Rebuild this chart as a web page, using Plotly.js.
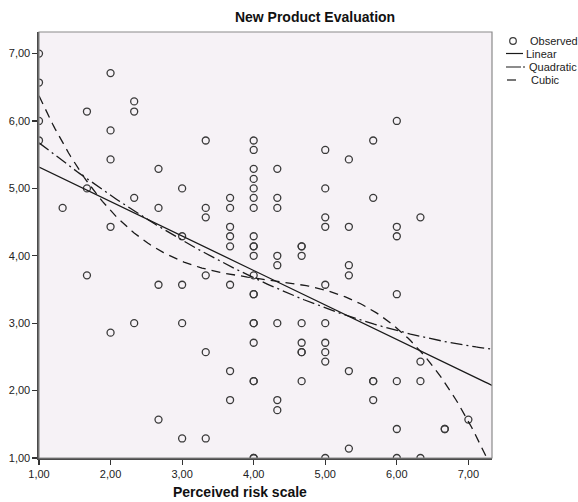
<!DOCTYPE html>
<html>
<head>
<meta charset="utf-8">
<script src="https://cdn.plot.ly/plotly-3.0.1.min.js"></script>
<style>
html,body{margin:0;padding:0;background:#ffffff;}
#chart{width:578px;height:502px;}
</style>
</head>
<body>
<div id="chart"></div>
<script>
// Observed data: perceived risk scale (x) vs new product evaluation (y)
const riskX = [
  1, 1, 1, 1,
  1.33,
  1.67, 1.67, 1.67,
  2, 2, 2, 2, 2,
  2.33, 2.33, 2.33, 2.33,
  2.67, 2.67, 2.67, 2.67,
  3, 3, 3, 3, 3,
  3.33, 3.33, 3.33, 3.33, 3.33, 3.33,
  3.67, 3.67, 3.67, 3.67, 3.67, 3.67, 3.67, 3.67,
  4, 4, 4, 4, 4, 4, 4, 4, 4, 4, 4, 4, 4, 4, 4, 4, 4, 4, 4, 4, 4,
  4.33, 4.33, 4.33, 4.33, 4.33, 4.33, 4.33, 4.33,
  4.67, 4.67, 4.67, 4.67, 4.67, 4.67, 4.67, 4.67,
  5, 5, 5, 5, 5, 5, 5, 5, 5, 5,
  5.33, 5.33, 5.33, 5.33, 5.33, 5.33,
  5.67, 5.67, 5.67, 5.67, 5.67,
  6, 6, 6, 6, 6, 6, 6,
  6.33, 6.33, 6.33, 6.33,
  6.67, 6.67,
  7
];
const evalY = [
  7.00, 6.57, 6.00, 5.71,
  4.71,
  6.14, 5.00, 3.71,
  6.71, 5.86, 5.43, 4.43, 2.86,
  6.29, 6.14, 4.86, 3.00,
  5.29, 4.71, 3.57, 1.57,
  5.00, 4.29, 3.57, 3.00, 1.29,
  5.71, 4.71, 4.57, 3.71, 2.57, 1.29,
  4.86, 4.71, 4.43, 4.29, 4.14, 3.57, 2.29, 1.86,
  5.71, 5.57, 5.29, 5.14, 5.00, 4.86, 4.71, 4.29, 4.14, 4.14, 4.00, 3.71, 3.43, 3.43, 3.00, 3.00, 2.71, 2.14, 2.14, 1.00, 1.00,
  5.29, 4.86, 4.71, 4.00, 3.86, 3.00, 1.86, 1.71,
  4.14, 4.14, 4.00, 3.00, 2.71, 2.57, 2.57, 2.14,
  5.57, 5.00, 4.57, 4.43, 3.57, 3.00, 2.71, 2.57, 2.43, 1.00,
  5.43, 4.43, 3.86, 3.71, 2.29, 1.14,
  5.71, 4.86, 2.14, 2.14, 1.86,
  6.00, 4.43, 4.29, 3.43, 2.14, 1.43, 1.00,
  4.57, 2.43, 2.14, 1.00,
  1.43, 1.43,
  1.57
];
const tickVals = [1, 2, 3, 4, 5, 6, 7];
const tickText = ['1,00', '2,00', '3,00', '4,00', '5,00', '6,00', '7,00'];
const seriesNames = ['Observed', 'Linear', 'Quadratic', 'Cubic'];
const fitDegrees = [1, 2, 3];
const chartTitle = 'New Product Evaluation';
const xTitle = 'Perceived risk scale';

const X_RANGE = [1, 7.33];
const Y_RANGE = [1, 7.32];

// least-squares polynomial fit of the observed data (curve estimation)
function polyFit(xs, ys, deg) {
  const n = deg + 1;
  const A = [];
  for (let i = 0; i < n; i++) A.push(new Array(n + 1).fill(0));
  for (let k = 0; k < xs.length; k++) {
    for (let i = 0; i < n; i++) {
      for (let j = 0; j < n; j++) A[i][j] += Math.pow(xs[k], i + j);
      A[i][n] += ys[k] * Math.pow(xs[k], i);
    }
  }
  for (let i = 0; i < n; i++) {
    let p = i;
    for (let r = i + 1; r < n; r++) if (Math.abs(A[r][i]) > Math.abs(A[p][i])) p = r;
    const tmp = A[i]; A[i] = A[p]; A[p] = tmp;
    for (let r = 0; r < n; r++) {
      if (r === i) continue;
      const f = A[r][i] / A[i][i];
      for (let c = i; c <= n; c++) A[r][c] -= f * A[i][c];
    }
  }
  return A.map((row, i) => row[n] / row[i]);
}
function evalPoly(coef, x) {
  let s = 0;
  for (let i = 0; i < coef.length; i++) s += coef[i] * Math.pow(x, i);
  return s;
}

const gridX = [];
for (let i = 0; i <= 200; i++) gridX.push(X_RANGE[0] + (X_RANGE[1] - X_RANGE[0]) * i / 200);

const lineStyles = ['solid', '12px,4px,2px,4px', '9px,6px'];
const fitTraces = fitDegrees.map((deg, idx) => {
  const c = polyFit(riskX, evalY, deg);
  return {
    type: 'scatter', mode: 'lines', name: seriesNames[idx + 1],
    x: gridX, y: gridX.map(v => evalPoly(c, v)),
    line: {color: '#1a1a1a', width: 1.3, dash: lineStyles[idx]},
    hoverinfo: 'skip'
  };
});

const observed = {
  type: 'scatter', mode: 'markers', name: seriesNames[0],
  x: riskX, y: evalY,
  marker: {symbol: 'circle-open', size: 7, color: '#3a3a3a', line: {width: 1.3, color: '#3a3a3a'}}
};

// plot area geometry in pixels (for legend placement)
const PL = 39, PR = 492, PT = 32, PB = 458;
const px2x = p => (p - PL) / (PR - PL);
const px2y = p => (PB - p) / (PB - PT);

const FONT = 'Liberation Sans, Arial, Helvetica, sans-serif';
const legendRows = [41, 53.5, 67, 80];
const shapes = [
  {type: 'rect', xref: 'paper', yref: 'paper', x0: 0, x1: 1, y0: 0, y1: 1,
   line: {color: '#8a8a8a', width: 1.2}, layer: 'above'},
  {type: 'circle', xref: 'paper', yref: 'paper', xsizemode: 'pixel', ysizemode: 'pixel',
   xanchor: px2x(513), yanchor: px2y(legendRows[0]), x0: -3.3, x1: 3.3, y0: -3.3, y1: 3.3,
   line: {color: '#3a3a3a', width: 1.2}},
  {type: 'line', xref: 'paper', yref: 'paper', x0: px2x(506), x1: px2x(523),
   y0: px2y(legendRows[1]), y1: px2y(legendRows[1]), line: {color: '#1a1a1a', width: 1.2}},
  {type: 'line', xref: 'paper', yref: 'paper', x0: px2x(506), x1: px2x(525),
   y0: px2y(legendRows[2]), y1: px2y(legendRows[2]), line: {color: '#1a1a1a', width: 1.2, dash: '15px,2px,2px,4px'}},
  {type: 'line', xref: 'paper', yref: 'paper', x0: px2x(507), x1: px2x(516),
   y0: px2y(legendRows[3]), y1: px2y(legendRows[3]), line: {color: '#1a1a1a', width: 1.2}}
];

const legendTextX = [528, 524, 527, 529];
const annotations = seriesNames.map((s, i) => ({
  text: s, xref: 'paper', yref: 'paper', x: px2x(legendTextX[i]), y: px2y(legendRows[i]),
  xanchor: 'left', yanchor: 'middle', showarrow: false,
  font: {family: FONT, size: 11, color: '#222'}
}));
annotations.push({
  text: xTitle, xref: 'paper', yref: 'paper', x: px2x(240), y: px2y(492),
  xanchor: 'center', yanchor: 'middle', showarrow: false,
  font: {family: FONT, size: 14, color: '#111', weight: 'bold'}
});

const axisCommon = {
  tickvals: tickVals, ticktext: tickText,
  ticks: 'outside', ticklen: 5, tickwidth: 1.2, tickcolor: '#333',
  showgrid: false, zeroline: false,
  showline: true, linecolor: '#4a4a4a', linewidth: 1.6,
  tickfont: {family: FONT, size: 11, color: '#222'},
  fixedrange: true
};

const layout = {
  width: 578, height: 502,
  margin: {l: PL, r: 578 - PR, t: PT, b: 502 - PB, pad: 0},
  paper_bgcolor: '#ffffff', plot_bgcolor: '#f6f2f6',
  showlegend: false,
  font: {family: FONT},
  title: {text: chartTitle, xref: 'container', yref: 'container', x: 315 / 578, y: 1 - 17 / 502,
          xanchor: 'center', yanchor: 'middle',
          font: {family: FONT, size: 14, color: '#111', weight: 'bold'}},
  xaxis: Object.assign({}, axisCommon, {range: X_RANGE}),
  yaxis: Object.assign({}, axisCommon, {range: Y_RANGE}),
  shapes: shapes,
  annotations: annotations
};

Plotly.newPlot('chart', [observed].concat(fitTraces), layout, {displayModeBar: false, staticPlot: true});
</script>
</body>
</html>
